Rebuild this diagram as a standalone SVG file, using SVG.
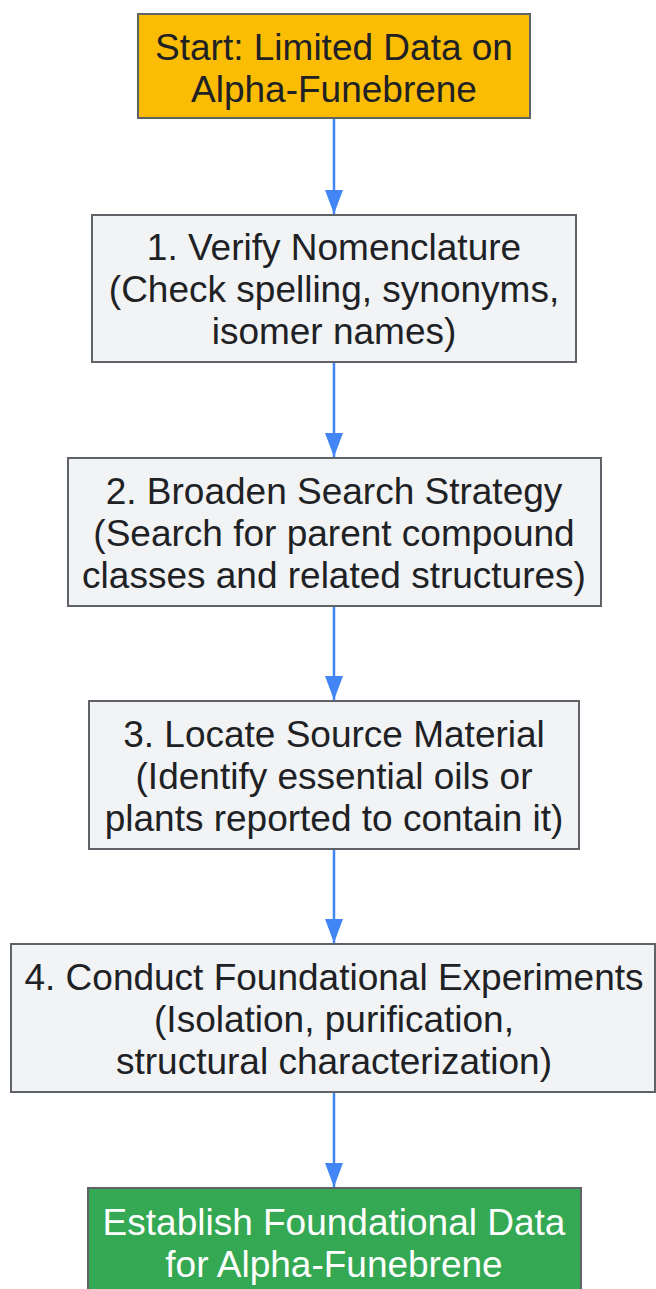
<svg xmlns="http://www.w3.org/2000/svg" width="656" height="1289" viewBox="0 0 656 1289">
  <style>
    .box { stroke: #5f6368; stroke-width: 2; }
    .gray { fill: #f1f3f4; }
    .start { fill: #fbbc04; }
    .end { fill: #34a853; }
    .t { font-family: "Liberation Sans", Arial, sans-serif; font-size: 37px; text-anchor: middle; fill: #202124; }
    .tw { fill: #ffffff; }
    .edge { stroke: #4285f4; stroke-width: 2.5; fill: none; marker-end: url(#arrow); }
  </style>
  <defs>
    <marker id="arrow" markerUnits="userSpaceOnUse" markerWidth="24" markerHeight="18" refX="24" refY="9" orient="auto">
      <path d="M0,0 L24,9 L0,18 z" fill="#4285f4"/>
    </marker>
  </defs>
  <rect width="656" height="1289" fill="#ffffff"/>
  <g id="connectors">
    <line class="edge" x1="334" y1="119" x2="334" y2="214"/>
    <line class="edge" x1="334" y1="363" x2="334" y2="457"/>
    <line class="edge" x1="334" y1="607" x2="334" y2="700"/>
    <line class="edge" x1="334" y1="850" x2="334" y2="943"/>
    <line class="edge" x1="334" y1="1093" x2="334" y2="1187"/>
  </g>
  <g id="start">
    <rect class="box start" x="138" y="14" width="392" height="104"/>
    <text class="t" x="334" y="60">Start: Limited Data on</text>
    <text class="t" x="334" y="102">Alpha-Funebrene</text>
  </g>
  <g id="step1">
    <rect class="box gray" x="92" y="215" width="484" height="147"/>
    <text class="t" x="334" y="260">1. Verify Nomenclature</text>
    <text class="t" x="334" y="302">(Check spelling, synonyms,</text>
    <text class="t" x="334" y="344">isomer names)</text>
  </g>
  <g id="step2">
    <rect class="box gray" x="68" y="458" width="533" height="148"/>
    <text class="t" x="334" y="504">2. Broaden Search Strategy</text>
    <text class="t" x="334" y="546">(Search for parent compound</text>
    <text class="t" x="334" y="588">classes and related structures)</text>
  </g>
  <g id="step3">
    <rect class="box gray" x="89" y="701" width="490" height="148"/>
    <text class="t" x="334" y="747">3. Locate Source Material</text>
    <text class="t" x="334" y="789">(Identify essential oils or</text>
    <text class="t" x="334" y="831">plants reported to contain it)</text>
  </g>
  <g id="step4">
    <rect class="box gray" x="11" y="944" width="644" height="148"/>
    <text class="t" x="334" y="990">4. Conduct Foundational Experiments</text>
    <text class="t" x="334" y="1032">(Isolation, purification,</text>
    <text class="t" x="334" y="1074">structural characterization)</text>
  </g>
  <g id="end">
    <rect class="box end" x="88" y="1188" width="493" height="110"/>
    <text class="t tw" x="334" y="1235">Establish Foundational Data</text>
    <text class="t tw" x="334" y="1277">for Alpha-Funebrene</text>
  </g>
</svg>
